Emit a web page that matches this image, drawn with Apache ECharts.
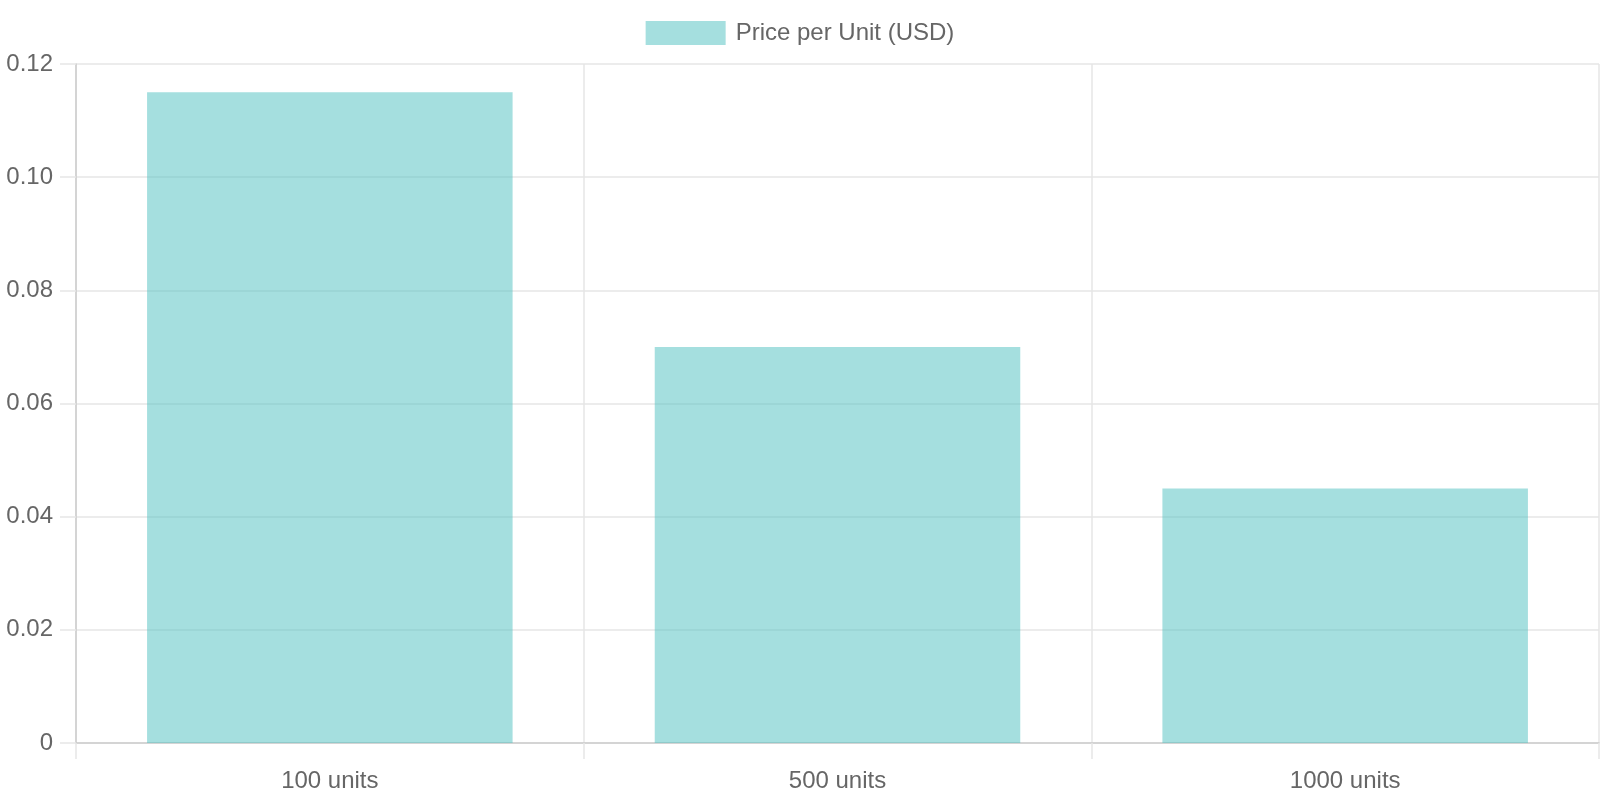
<!DOCTYPE html>
<html>
<head>
<meta charset="utf-8">
<script src="https://cdn.jsdelivr.net/npm/echarts@6/dist/echarts.min.js"></script>
<style>
  html, body { margin: 0; padding: 0; background: #fff; }
  #chart { width: 1600px; height: 800px; }
</style>
</head>
<body>
<div id="chart"></div>
<script>
const categories = ['100 units', '500 units', '1000 units'];
const seriesName = 'Price per Unit (USD)';
const priceValues = [0.115, 0.07, 0.045];
const yMin = 0, yMax = 0.12, yStep = 0.02;

const FONT = 'Liberation Sans, Arial, Helvetica, sans-serif';
const chart = echarts.init(document.getElementById('chart'), null, { renderer: 'canvas' });
chart.setOption({
  animation: false,
  backgroundColor: '#ffffff',
  textStyle: { fontFamily: FONT },
  legend: {
    show: true,
    left: 'center',
    top: 16,
    icon: 'rect',
    itemWidth: 80,
    itemHeight: 24,
    textStyle: { color: '#666666', fontSize: 24, fontFamily: FONT, padding: [0, 0, 0, 5] },
    data: [seriesName]
  },
  grid: { left: 76, right: 1, top: 64, bottom: 57, containLabel: false },
  xAxis: {
    type: 'category',
    data: categories,
    boundaryGap: true,
    axisLine: { show: true, lineStyle: { color: '#cccccc', width: 1.5 } },
    axisTick: { show: true, length: 16, interval: 0, alignWithLabel: false, lineStyle: { color: '#e6e6e6', width: 1.5 } },
    splitLine: { show: true, interval: 0, lineStyle: { color: '#e6e6e6', width: 1.5 } },
    axisLabel: { color: '#666666', fontSize: 24, fontFamily: FONT, margin: 26, interval: 0 }
  },
  yAxis: {
    type: 'value',
    min: yMin,
    max: yMax,
    interval: yStep,
    axisLine: { show: true, lineStyle: { color: '#cccccc', width: 1.5 } },
    axisTick: { show: true, length: 16, lineStyle: { color: '#e6e6e6', width: 1.5 } },
    splitLine: { show: true, lineStyle: { color: '#e6e6e6', width: 1.5 } },
    axisLabel: {
      color: '#666666', fontSize: 24, fontFamily: FONT, margin: 23,
      formatter: function (v) { return v === 0 ? '0' : v.toFixed(2); }
    }
  },
  series: [{
    name: seriesName,
    type: 'bar',
    data: priceValues,
    barCategoryGap: '28%',
    itemStyle: { color: 'rgba(75,192,192,0.5)' }
  }]
});
</script>
</body>
</html>
